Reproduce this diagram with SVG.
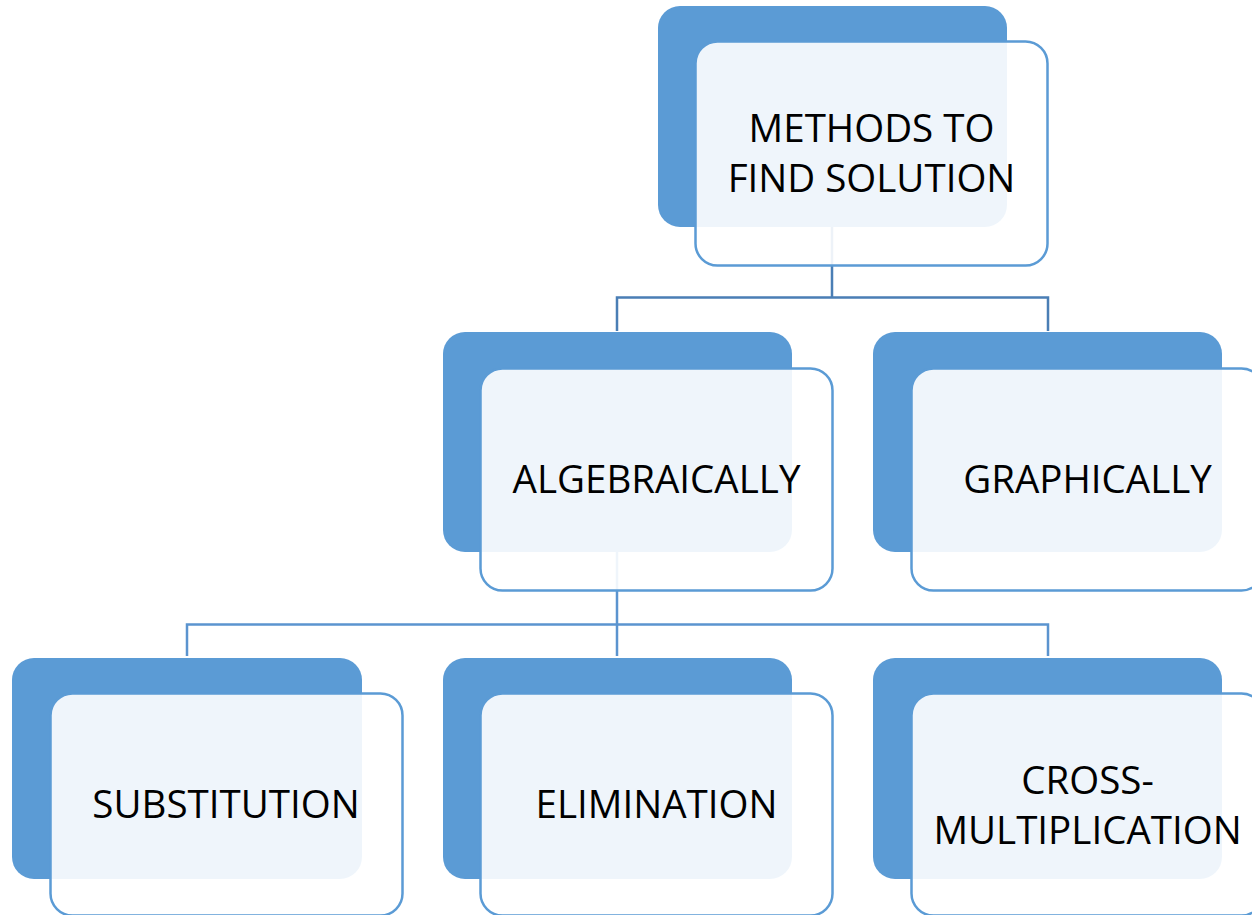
<svg xmlns="http://www.w3.org/2000/svg" width="1252" height="915" viewBox="0 0 1252 915">
<style>
.back{fill:#5B9BD5;}
.front{fill:#FFFFFF;fill-opacity:0.9;stroke:#5B9BD5;stroke-width:2.5;}
.lbl{font-family:"Open Sans","Liberation Sans",sans-serif;font-size:38.5px;fill:#000;text-anchor:middle;}
.c1{fill:none;stroke:#4A7EB5;stroke-width:2.5;}
.c2{fill:none;stroke:#5B94CF;stroke-width:2.5;}
</style>
<rect width="1252" height="915" fill="#FFFFFF"/>
<g id="connectors">
<path class="c1" d="M832 227 V297.5 M617 331 V297.5 H1048 V331"/>
<path class="c2" d="M617 552 V656 M187 656 V624.5 H1048 V656"/>
</g>
<g id="n-methods">
<rect class="back" x="658" y="6" width="349" height="221" rx="22"/>
<rect class="front" x="695.5" y="41.5" width="352" height="224" rx="22"/>
<text class="lbl" x="871.5" y="142">METHODS TO</text>
<text class="lbl" x="871.5" y="192">FIND SOLUTION</text>
</g>
<g id="n-algebraically">
<rect class="back" x="443" y="332" width="349" height="220" rx="22"/>
<rect class="front" x="480.5" y="368.5" width="352" height="222" rx="22"/>
<text class="lbl" x="656.5" y="493">ALGEBRAICALLY</text>
</g>
<g id="n-graphically">
<rect class="back" x="873" y="332" width="349" height="220" rx="22"/>
<rect class="front" x="911.5" y="368.5" width="352" height="222" rx="22"/>
<text class="lbl" x="1087.5" y="493">GRAPHICALLY</text>
</g>
<g id="n-substitution">
<rect class="back" x="12" y="658" width="350" height="221" rx="22"/>
<rect class="front" x="50.5" y="693.5" width="352" height="222" rx="22"/>
<text class="lbl" x="226" y="818">SUBSTITUTION</text>
</g>
<g id="n-elimination">
<rect class="back" x="443" y="658" width="349" height="221" rx="22"/>
<rect class="front" x="480.5" y="693.5" width="352" height="222" rx="22"/>
<text class="lbl" x="656.5" y="818">ELIMINATION</text>
</g>
<g id="n-cross">
<rect class="back" x="873" y="658" width="349" height="221" rx="22"/>
<rect class="front" x="911.5" y="693.5" width="352" height="222" rx="22"/>
<text class="lbl" x="1087.5" y="794">CROSS-</text>
<text class="lbl" x="1087.5" y="844">MULTIPLICATION</text>
</g>
</svg>
